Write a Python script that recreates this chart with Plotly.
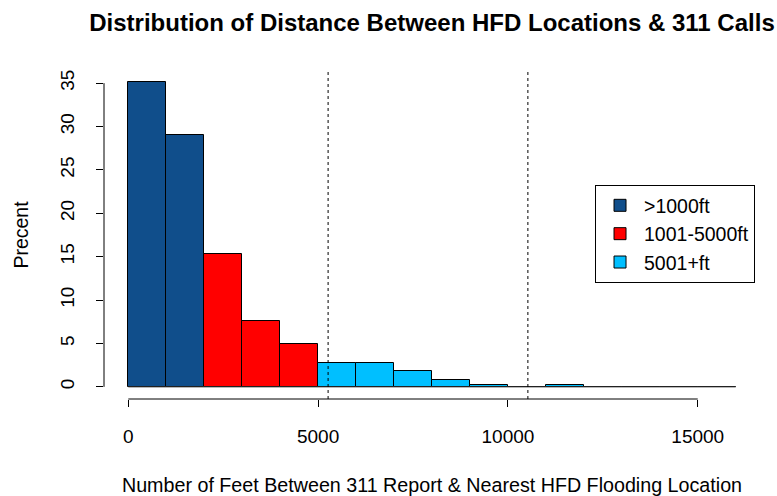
import plotly.graph_objects as go

# Data
bin_width = 1000
bin_left = list(range(0, 16000, 1000))
percent = [35.1, 29.0, 15.3, 7.6, 4.9, 2.8, 2.8, 1.85, 0.75, 0.2, 0.0, 0.2, 0.0, 0.0, 0.0, 0.0]
group_names = [">1000ft", "1001-5000ft", "5001+ft"]
group_colors = ["#104E8B", "#FF0000", "#00BFFF"]
group_bounds = [(0, 2000), (2000, 5000), (5000, 16000)]
ref_lines = [5263, 10526]
x_ticks = [0, 5000, 10000, 15000]
y_ticks = [0, 5, 10, 15, 20, 25, 30, 35]

FONT = "Liberation Sans, Arial, sans-serif"

fig = go.Figure()
for name, color, (lo, hi) in zip(group_names, group_colors, group_bounds):
    xs = [b + bin_width / 2 for b in bin_left if lo <= b < hi]
    ys = [p for b, p in zip(bin_left, percent) if lo <= b < hi]
    fig.add_trace(go.Bar(
        x=xs, y=ys, width=bin_width, name=name,
        marker=dict(color=color, line=dict(color="black", width=1)),
    ))

x_min, x_max = bin_left[0], bin_left[-1] + bin_width
y_max = max(y_ticks)
xpad = 0.04 * (x_max - x_min)
ypad = 0.04 * y_max

# baseline for empty bins (R draws zero-height bars as lines)
fig.add_shape(type="line", x0=x_min, x1=x_max, y0=0, y1=0, xref="x", yref="y",
              line=dict(color="#333333", width=1))
# axis lines (R style, spanning only tick range)
fig.add_shape(type="line", x0=0, x1=0, xref="paper", y0=y_ticks[0], y1=y_ticks[-1], yref="y",
              line=dict(color="black", width=1))
fig.add_shape(type="line", y0=0, y1=0, yref="paper", x0=x_ticks[0], x1=x_ticks[-1], xref="x",
              line=dict(color="black", width=1))
for v in ref_lines:
    fig.add_shape(type="line", x0=v, x1=v, xref="x", y0=0, y1=1, yref="paper",
                  line=dict(color="black", width=1, dash="dot"))

fig.update_layout(
    width=777, height=496,
    margin=dict(l=104, r=17, t=71, b=97, autoexpand=False),
    paper_bgcolor="white", plot_bgcolor="white",
    font=dict(family=FONT, size=19, color="black"),
    barmode="overlay", bargap=0,
    showlegend=True,
    title=dict(text="<b>Distribution of Distance Between HFD Locations & 311 Calls</b>",
               x=0.5, xref="paper", xanchor="center", y=0.955, yanchor="middle",
               font=dict(family=FONT, size=24, color="black")),
    legend=dict(x=0.7485, y=0.652, xanchor="left", yanchor="top",
                bordercolor="black", borderwidth=1, bgcolor="white",
                font=dict(family=FONT, size=19.5, color="black"),
                itemwidth=38,
                traceorder="normal", tracegroupgap=0),
    xaxis=dict(range=[x_min - xpad, x_max + xpad], showgrid=False, zeroline=False,
               showline=False, ticks="outside", ticklen=7, tickcolor="black",
               tickvals=x_ticks, ticktext=[str(t) for t in x_ticks],
               ticklabelstandoff=13, automargin=False,
               title=dict(text="Number of Feet Between 311 Report & Nearest HFD Flooding Location",
                          standoff=37, font=dict(family=FONT, size=19.7))),
    yaxis=dict(range=[-ypad, y_max + ypad], showgrid=False, zeroline=False,
               showline=False, ticks="outside", ticklen=7, tickcolor="black",
               tickvals=y_ticks, ticktext=[str(t) for t in y_ticks], tickangle=-90,
               ticklabelstandoff=14, automargin=False,
               title=dict(text="Precent", standoff=23, font=dict(family=FONT, size=19.5))),
)

fig.write_html("out.html", config={"displayModeBar": False},
               post_script="document.body.style.margin='0';")
